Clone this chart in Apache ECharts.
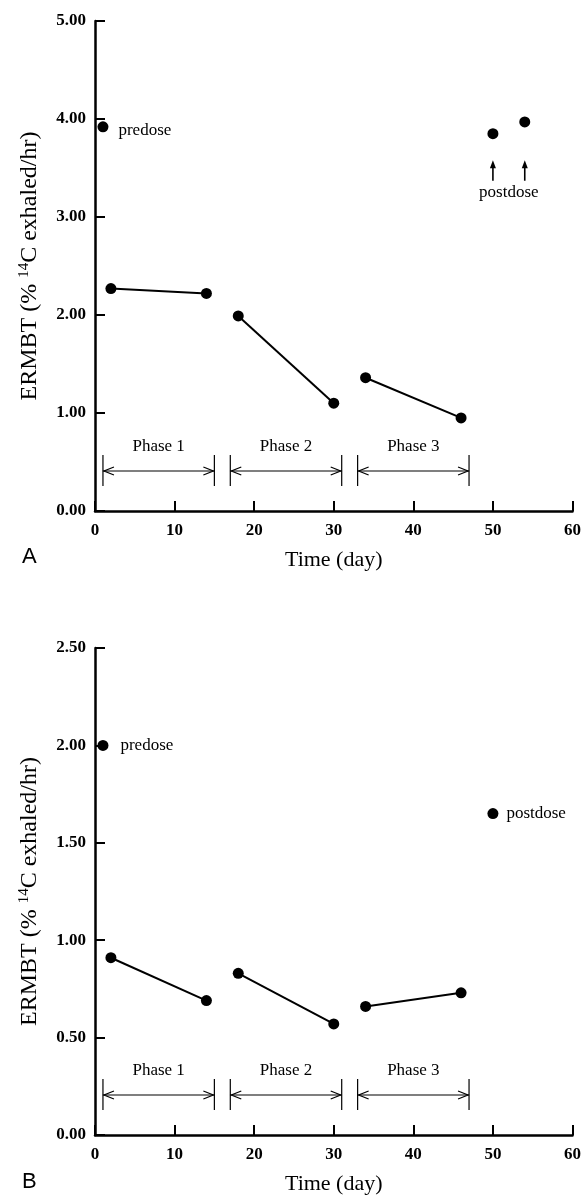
<!DOCTYPE html>
<html>
<head>
<meta charset="utf-8">
<script src="https://cdn.jsdelivr.net/npm/echarts@6/dist/echarts.min.js"></script>
<style>
html,body{margin:0;padding:0;background:#fff;}
#chart{width:584px;height:1196px;}
</style>
</head>
<body>
<div id="chart"></div>
<script>
// ---- data ----
const xTicks = [0, 10, 20, 30, 40, 50, 60];
const yTicksA = [0, 1, 2, 3, 4, 5];
const yTicksB = [0, 0.5, 1, 1.5, 2, 2.5];

// Panel A
const predoseA = [[1, 3.92]];
const postdoseA = [[50, 3.85], [54, 3.97]];
const phase1A = [[2, 2.27], [14, 2.22]];
const phase2A = [[18, 1.99], [30, 1.10]];
const phase3A = [[34, 1.36], [46, 0.95]];

// Panel B
const predoseB = [[1, 2.00]];
const postdoseB = [[50, 1.65]];
const phase1B = [[2, 0.91], [14, 0.69]];
const phase2B = [[18, 0.83], [30, 0.57]];
const phase3B = [[34, 0.66], [46, 0.73]];

// Phase brackets (days)
const phaseStarts = [1, 17, 33];
const phaseEnds = [15, 31, 47];
const phaseLabels = ['Phase 1', 'Phase 2', 'Phase 3'];

// Postdose arrows in panel A (days)
const postArrowDays = [50, 54];

const xTitle = 'Time (day)';
const yTitleRich = '{a|ERMBT (% }{s|14}{a|C exhaled/hr)}';

// ---- chart ----
const SERIF = '"Liberation Serif", "Times New Roman", serif';
const chart = echarts.init(document.getElementById('chart'), null, {renderer: 'canvas'});

function xAxisCfg(gi) {
  return {
    type: 'value', gridIndex: gi, min: xTicks[0], max: xTicks[xTicks.length - 1], interval: 10,
    name: xTitle, nameLocation: 'middle', nameGap: 38,
    nameTextStyle: {fontFamily: SERIF, fontSize: 22, color: '#000'},
    axisLine: {show: true, onZero: false, lineStyle: {color: '#000', width: 2.5}},
    axisTick: {show: true, inside: true, length: 10, lineStyle: {color: '#000', width: 2}},
    axisLabel: {fontFamily: SERIF, fontWeight: 'bold', fontSize: 17, color: '#000', margin: 11},
    splitLine: {show: false}
  };
}
function yAxisCfg(gi, max, interval) {
  return {
    type: 'value', gridIndex: gi, min: 0, max: max, interval: interval,
    name: yTitleRich, nameLocation: 'middle', nameGap: 52, nameRotate: 90,
    nameTextStyle: {
      color: '#000',
      rich: {
        a: {fontFamily: SERIF, fontSize: 24, color: '#000', lineHeight: 26},
        s: {fontFamily: SERIF, fontSize: 15, color: '#000', verticalAlign: 'top', lineHeight: 26, padding: [0, 0, 9, 0]}
      }
    },
    axisLine: {show: true, onZero: false, lineStyle: {color: '#000', width: 2.5}},
    axisTick: {show: true, inside: true, length: 10, lineStyle: {color: '#000', width: 2}},
    axisLabel: {fontFamily: SERIF, fontWeight: 'bold', fontSize: 17, color: '#000', margin: 9,
      formatter: v => v.toFixed(2)},
    splitLine: {show: false}
  };
}

const dotStyle = {color: '#000', opacity: 1};
function lineSeries(data, gi) {
  return {type: 'line', xAxisIndex: gi, yAxisIndex: gi, data: data, symbol: 'circle', symbolSize: 11,
    itemStyle: dotStyle, lineStyle: {color: '#000', width: 2}, silent: true, animation: false};
}
function dotSeries(data, gi, labelText, dist, offset) {
  return {type: 'scatter', xAxisIndex: gi, yAxisIndex: gi, data: data, symbol: 'circle', symbolSize: 11,
    itemStyle: dotStyle, silent: true, animation: false,
    label: labelText ? {show: true, position: 'right', distance: dist, offset: offset || [0, 0],
      formatter: labelText, fontFamily: SERIF, fontSize: 17, color: '#000', opacity: 1} : {show: false}};
}

function renderPhase(params, api) {
  const i = params.dataIndex;
  const a = api.coord([api.value(0), 0]);
  const b = api.coord([api.value(1), 0]);
  const y0 = a[1];
  const yTop = y0 - 56, yBot = y0 - 25, ya = y0 - 40, yl = y0 - 64;
  const x0 = a[0], x1 = b[0];
  const st = {stroke: '#000', lineWidth: 1.2, fill: null};
  return {type: 'group', children: [
    {type: 'line', shape: {x1: x0, y1: yTop, x2: x0, y2: yBot}, style: st},
    {type: 'line', shape: {x1: x1, y1: yTop, x2: x1, y2: yBot}, style: st},
    {type: 'line', shape: {x1: x0, y1: ya, x2: x1, y2: ya}, style: st},
    {type: 'polyline', shape: {points: [[x0 + 11, ya - 4], [x0 + 1, ya], [x0 + 11, ya + 4]]}, style: st},
    {type: 'polyline', shape: {points: [[x1 - 11, ya - 4], [x1 - 1, ya], [x1 - 11, ya + 4]]}, style: st},
    {type: 'text', style: {text: phaseLabels[i], x: (x0 + x1) / 2, y: yl, align: 'center', verticalAlign: 'middle',
      font: '17px ' + SERIF, fill: '#000'}}
  ]};
}

function renderPostArrow(params, api) {
  const d = api.value(0);
  const tip = api.coord([d, 3.58]);
  const tail = api.coord([d, 3.37]);
  const children = [
    {type: 'line', shape: {x1: tip[0], y1: tip[1] + 6, x2: tail[0], y2: tail[1]}, style: {stroke: '#000', lineWidth: 1.6}},
    {type: 'polygon', shape: {points: [[tip[0], tip[1]], [tip[0] - 3, tip[1] + 8], [tip[0] + 3, tip[1] + 8]]}, style: {fill: '#000'}}
  ];
  if (params.dataIndex === 0) {
    const mid = api.coord([(postArrowDays[0] + postArrowDays[1]) / 2, 3.25]);
    children.push({type: 'text', style: {text: 'postdose', x: mid[0], y: mid[1], align: 'center', verticalAlign: 'middle',
      font: '17px ' + SERIF, fill: '#000'}});
  }
  return {type: 'group', children: children};
}

const phaseData = phaseStarts.map((s, i) => [s, phaseEnds[i]]);

const option = {
  backgroundColor: '#fff',
  animation: false,
  grid: [
    {left: 95, top: 21, width: 480, height: 490},
    {left: 95, top: 648, width: 480, height: 488}
  ],
  xAxis: [xAxisCfg(0), xAxisCfg(1)],
  yAxis: [yAxisCfg(0, 5, 1), yAxisCfg(1, 2.5, 0.5)],
  graphic: [
    {type: 'text', left: 22, top: 546, style: {text: 'A', font: '22px "Liberation Sans", Arial, sans-serif', fill: '#000'}},
    {type: 'text', left: 22, top: 1171, style: {text: 'B', font: '22px "Liberation Sans", Arial, sans-serif', fill: '#000'}}
  ],
  series: [
    lineSeries(phase1A, 0), lineSeries(phase2A, 0), lineSeries(phase3A, 0),
    dotSeries(predoseA, 0, 'predose', 10, [0, 4]),
    dotSeries(postdoseA, 0, null),
    {type: 'custom', xAxisIndex: 0, yAxisIndex: 0, data: phaseData, renderItem: renderPhase, silent: true},
    {type: 'custom', xAxisIndex: 0, yAxisIndex: 0, data: postArrowDays.map(d => [d]), renderItem: renderPostArrow, silent: true},

    lineSeries(phase1B, 1), lineSeries(phase2B, 1), lineSeries(phase3B, 1),
    dotSeries(predoseB, 1, 'predose', 12, [0, 0]),
    dotSeries(postdoseB, 1, 'postdose', 8, [0, 0]),
    {type: 'custom', xAxisIndex: 1, yAxisIndex: 1, data: phaseData, renderItem: renderPhase, silent: true}
  ]
};
chart.setOption(option);
</script>
</body>
</html>
